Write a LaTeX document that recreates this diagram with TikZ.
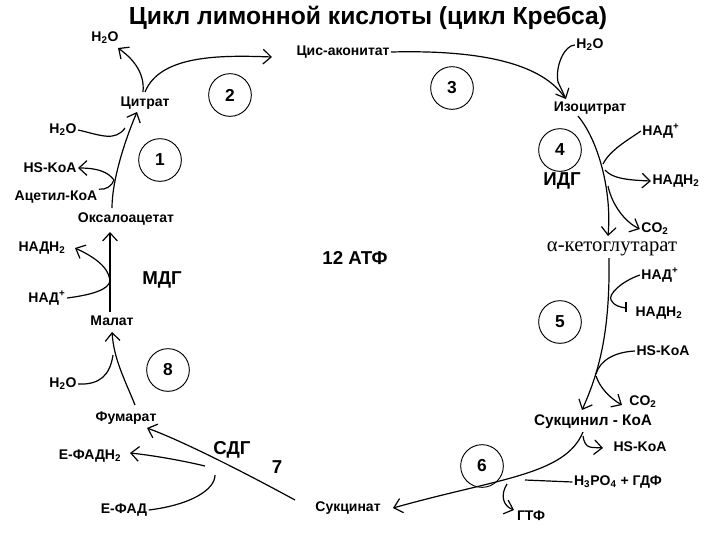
\documentclass[tikz,border=0pt]{standalone}
\usepackage{fontspec}
\setmainfont{Liberation Sans}
\newfontfamily\serifru{Liberation Serif}
\usetikzlibrary{arrows.meta}
\newcommand{\sbx}[1]{\textsubscript{#1}}
\newcommand{\spx}[1]{\textsuperscript{#1}}
\begin{document}
\begin{tikzpicture}[x=0.75pt,y=-0.75pt,
  lbl/.style={font=\bfseries\fontsize{10.5}{11}\selectfont,inner sep=1pt},
  big/.style={font=\bfseries\fontsize{14}{15}\selectfont,inner sep=1pt},
  num/.style={draw,circle,minimum size=32pt,inner sep=0pt,font=\bfseries\fontsize{13}{14}\selectfont,line width=0.7pt},
  rx/.style={line width=0.9pt,-{Straight Barb[length=6pt,width=11pt]}},
  ln/.style={line width=0.9pt}]
\useasboundingbox (0,0) rectangle (720,540);
% texts
\node[font=\bfseries\fontsize{18.5}{20}\selectfont] (title) at (368,18) {Цикл лимонной кислоты (цикл Кребса)};
\node[lbl] (w1) at (105,38) {H\sbx{2}O};
\node[lbl] (cis) at (343,52) {Цис-аконитат};
\node[lbl] (w2) at (590,45) {H\sbx{2}O};
\node[lbl] (cit) at (145,103) {Цитрат};
\node[num] (c2) at (230,95) {2};
\node[num] (c3) at (452,88) {3};
\node[lbl] (iso) at (590,108) {Изоцитрат};
\node[lbl] (w3) at (63,130) {H\sbx{2}O};
\node[lbl] (nad1) at (661,131) {НАД\spx{+}};
\node[lbl] (hs1) at (50,168) {HS-KoA};
\node[num] (c1) at (160,160) {1};
\node[num] (c4) at (560,150) {4};
\node[big] (idg) at (562,181) {ИДГ};
\node[lbl] (nadh1) at (676,181) {НАДН\sbx{2}};
\node[lbl] (acet) at (56,197) {Ацетил-КоА};
\node[lbl] (oxa) at (126,219) {Оксалоацетат};
\node[lbl] (co21) at (655,229) {CO\sbx{2}};
\node[lbl] (nadh2) at (42,248) {НАДН\sbx{2}};
\node[big] (atp) at (355,258) {12 АТФ};
\node[font=\serifru\fontsize{15.5}{16}\selectfont] (akg) at (612,249) {α-кетоглутарат};
\node[big] (mdg) at (162,280) {МДГ};
\node[lbl] (nad2) at (660,275) {НАД\spx{+}};
\node[lbl] (nad3) at (47,298) {НАД\spx{+}};
\node[lbl] (nadh3) at (659,313) {НАДН\sbx{2}};
\node[lbl] (mal) at (112,321) {Малат};
\node[num] (c5) at (560,322) {5};
\node[lbl] (hs2) at (663,351) {HS-KoA};
\node[num] (c8) at (168,370) {8};
\node[lbl] (w4) at (63,384) {H\sbx{2}O};
\node[lbl] (co22) at (643,402) {CO\sbx{2}};
\node[lbl] (fum) at (126,418) {Фумарат};
\node[font=\fontsize{11.5}{12}\selectfont\bfseries] (scoa) at (593,422) {Сукцинил - КоА};
\node[lbl] (hs3) at (640,447) {HS-KoA};
\node[big] (sdg) at (232,450) {СДГ};
\node[lbl] (fadh) at (90,456) {Е-ФАДН\sbx{2}};
\node[big] (n7) at (277,467) {7};
\node[num] (c6) at (482,466) {6};
\node[lbl] (h3p) at (618,482) {H\sbx{3}PO\sbx{4} + ГДФ};
\node[lbl] (fad) at (124,510) {Е-ФАД};
\node[lbl] (suc) at (348,508) {Сукцинат};
\node[lbl] (gtf) at (531,516) {ГТФ};
% step 1
\coordinate (j1) at (114,180);
\draw[rx] (112,208) .. controls (112,180) and (125,140) .. (137,112);
\draw[ln] (w3.east) .. controls (100,135) and (115,142) .. (125,128);
\draw[rx] (j1) .. controls (108,172) and (98,168) .. (hs1.east);
\draw[ln] (acet.north east) .. controls (106,190) and (112,186) .. (j1);
% citrate
\draw[rx] (143,92) .. controls (145,72) and (132,58) .. (118,48);
\draw[rx] (145,92) .. controls (160,55) and (220,55) .. (272,57);
% step 3
\draw[ln] (cis.east) .. controls (470,50) and (540,60) .. (565,98);
\draw[ln] (w2.west) .. controls (565,45) and (555,65) .. (558,82);
\draw[rx] (558,82) -- (566,99);
% step 4
\coordinate (j4) at (603,164);
\draw[rx] (578,116) .. controls (598,140) and (612,190) .. (608,236);
\draw[ln] (j4) .. controls (610,150) and (628,140) .. (nad1.west);
\draw[rx] (605,170) .. controls (612,178) and (625,180) .. (nadh1.west);
\draw[rx] (608,186) .. controls (612,205) and (625,222) .. (co21.west);
% step 5
\draw[rx] (609,258) .. controls (610,330) and (600,370) .. (582,410);
\draw[ln] (nad2.west) .. controls (620,282) and (608,295) .. (611,300);
\draw[ln] (611,300) .. controls (614,306) and (620,307) .. (626,308);
\draw[ln] (626,302) -- (626,312);
\draw[ln] (hs2.west) .. controls (615,352) and (600,360) .. (596,374);
\draw[rx] (596,376) .. controls (600,388) and (610,398) .. (622,405);
% step 6
\draw[rx] (583,432) .. controls (565,475) and (500,478) .. (393,508);
\draw[rx] (583,436) .. controls (585,450) and (592,447) .. (603,448);
\draw[ln] (h3p.west) -- (525,480);
\draw[rx] (507,484) .. controls (500,495) and (503,506) .. (514,510);
% step 7
\draw[rx] (295,500) .. controls (240,470) and (180,440) .. (147,428);
\draw[rx] (205,466) .. controls (180,460) and (150,455) .. (130,453);
\draw[ln] (fad.east) .. controls (190,505) and (215,490) .. (215,475);
% step 8
\draw[rx] (135,405) .. controls (125,380) and (114,360) .. (112,332);
\draw[ln] (w4.east) .. controls (100,385) and (110,375) .. (113,355);
% MDG
\draw[rx] (110,312) -- (110,232);
\draw[ln] (nad3.east) .. controls (90,295) and (110,290) .. (110,280);
\draw[rx] (110,280) .. controls (108,265) and (90,255) .. (75,248);
\end{tikzpicture}
\end{document}
